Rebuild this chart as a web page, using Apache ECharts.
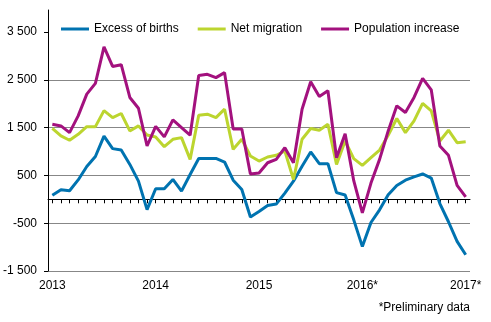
<!DOCTYPE html>
<html>
<head>
<meta charset="utf-8">
<script src="https://cdn.jsdelivr.net/npm/echarts@6/dist/echarts.min.js"></script>
<style>html,body{margin:0;padding:0;background:#fff;}#chart{width:491px;height:322px;}</style>
</head>
<body>
<div id="chart"></div>
<script>
var months = [
  '2013M01','2013M02','2013M03','2013M04','2013M05','2013M06','2013M07','2013M08','2013M09','2013M10','2013M11','2013M12',
  '2014M01','2014M02','2014M03','2014M04','2014M05','2014M06','2014M07','2014M08','2014M09','2014M10','2014M11','2014M12',
  '2015M01','2015M02','2015M03','2015M04','2015M05','2015M06','2015M07','2015M08','2015M09','2015M10','2015M11','2015M12',
  '2016M01','2016M02','2016M03','2016M04','2016M05','2016M06','2016M07','2016M08','2016M09','2016M10','2016M11','2016M12',
  '2017M01'
];
var yearLabels = ['2013', '2014', '2015', '2016*', '2017*'];
var yTickValues = [-1500, -500, 500, 1500, 2500, 3500];

var excessOfBirths = [
  85, 200, 180, 405, 685, 895, 1320, 1060, 1030, 730, 380, -215,
  220, 220, 415, 170, 520, 855, 855, 855, 780, 400, 205, -370,
  -255, -130, -100, 130, 380, 690, 990, 745, 745, 140, 90, -430,
  -990, -485, -220, 95, 290, 400, 470, 530, 445, -90, -470, -880,
  -1160
];
var netMigration = [
  1485, 1325, 1235, 1360, 1520, 1520, 1855, 1710, 1795, 1430, 1535, 1345,
  1305, 1100, 1255, 1290, 835, 1760, 1780, 1710, 1885, 1045, 1255, 905,
  800, 885, 920, 1010, 415, 1255, 1480, 1445, 1570, 730, 1220, 850,
  710, 870, 1030, 1340, 1690, 1395, 1640, 2005, 1850, 1220, 1445, 1185,
  1205
];
var populationIncrease = [
  1570, 1535, 1395, 1745, 2200, 2425, 3190, 2780, 2815, 2130, 1905, 1115,
  1525, 1305, 1660, 1500, 1340, 2590, 2615, 2545, 2650, 1470, 1470, 530,
  550, 765, 835, 1080, 765, 1885, 2460, 2150, 2270, 870, 1370, 390,
  -285, 340, 835, 1430, 1955, 1815, 2130, 2530, 2290, 1115, 920, 290,
  50
];

var FONT = 'Liberation Sans, Arial, sans-serif';
function fmtThousands(v) {
  var s = String(Math.abs(v));
  s = s.replace(/\B(?=(\d{3})+(?!\d))/g, ' ');
  return (v < 0 ? '-' : '') + s;
}

var chart = echarts.init(document.getElementById('chart'));
chart.setOption({
  animation: false,
  backgroundColor: '#ffffff',
  textStyle: { fontFamily: FONT },
  grid: { left: 47, right: 21, top: 10, bottom: 51 },
  legend: {
    left: 56, top: 18,
    itemWidth: 28, itemHeight: 3, itemGap: 19,
    icon: 'rect',
    textStyle: { fontFamily: FONT, fontSize: 12, color: '#000' },
    data: ['Excess of births', 'Net migration', 'Population increase']
  },
  xAxis: [
    {
      type: 'category', data: months, boundaryGap: true, position: 'bottom',
      axisLine: { show: true, onZero: true, lineStyle: { color: '#000', width: 1 } },
      axisTick: { show: true, alignWithLabel: true, interval: 0, length: 4, lineStyle: { color: '#000' } },
      axisLabel: { show: false },
      splitLine: { show: false }
    },
    {
      type: 'category', data: months, boundaryGap: true, position: 'bottom',
      axisLine: { show: false, onZero: false },
      axisTick: { show: false },
      axisLabel: {
        show: true, interval: 11, margin: 9,
        fontFamily: FONT, fontSize: 12, color: '#000',
        formatter: function (val, idx) { return yearLabels[Math.round(idx / 12)]; }
      },
      splitLine: { show: false }
    }
  ],
  yAxis: {
    type: 'value', min: -1500, max: 3960, interval: 1000,
    axisLine: { show: true, lineStyle: { color: '#000', width: 1 } },
    axisTick: { show: true, length: 4, customValues: yTickValues, lineStyle: { color: '#000' } },
    axisLabel: {
      customValues: yTickValues, margin: 11,
      fontFamily: FONT, fontSize: 12, color: '#000',
      formatter: function (v) { return fmtThousands(v); }
    },
    splitLine: { show: true, showMaxLine: false, showMinLine: true, lineStyle: { color: '#878787', width: 1 } }
  },
  series: [
    { name: 'Excess of births', type: 'line', data: excessOfBirths, xAxisIndex: 0, symbol: 'none',
      lineStyle: { color: '#0073B0', width: 3 }, itemStyle: { color: '#0073B0' } },
    { name: 'Net migration', type: 'line', data: netMigration, xAxisIndex: 0, symbol: 'none',
      lineStyle: { color: '#BCD52F', width: 3 }, itemStyle: { color: '#BCD52F' } },
    { name: 'Population increase', type: 'line', data: populationIncrease, xAxisIndex: 0, symbol: 'none',
      lineStyle: { color: '#A3117E', width: 3 }, itemStyle: { color: '#A3117E' } }
  ],
  graphic: [
    { type: 'text', right: 21, top: 302,
      style: { text: '*Preliminary data', fontFamily: FONT, fontSize: 12, fill: '#000' } }
  ]
});
</script>
</body>
</html>
